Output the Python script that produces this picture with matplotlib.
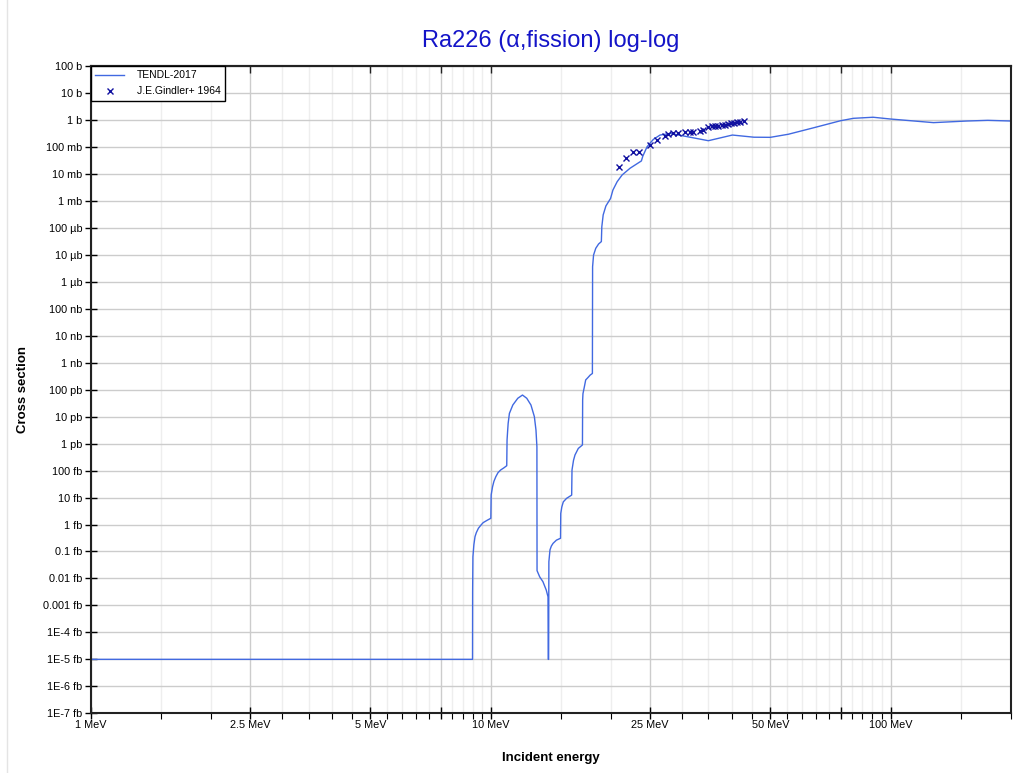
import numpy as np
import matplotlib
matplotlib.use("Agg")
import matplotlib.pyplot as plt
from matplotlib.ticker import FixedLocator, FuncFormatter, NullFormatter
from matplotlib.lines import Line2D

plt.rcParams['font.family'] = ['Liberation Sans', 'DejaVu Sans']

# TENDL-2017 evaluation (energy in MeV, log10 of cross section in b)
tendl_e = [1.0, 9.0, 9.005, 9.02, 9.07, 9.13, 9.2, 9.31, 9.45, 9.57, 9.8, 10.0,
           10.02, 10.1, 10.18, 10.29, 10.42, 10.58, 10.78, 10.96,
           10.98, 11.02, 11.05, 11.13, 11.35, 11.68, 12.0, 12.3, 12.6, 12.85, 12.97, 13.04,
           13.05, 13.25, 13.5, 13.76, 13.9, 13.92,
           13.95, 13.97, 14.06, 14.17, 14.31, 14.59, 14.94,
           14.96, 15.05, 15.18, 15.47, 15.93,
           15.96, 16.1, 16.24, 16.55, 16.95,
           16.97, 17.0, 17.14, 17.27, 17.5, 17.72, 17.95,
           17.97, 18.07, 18.3, 18.6, 18.9, 18.95, 19.1, 19.4, 19.93, 20.2, 20.7, 21.3,
           22.3, 23.8, 24.0, 24.6, 25.5, 26.5, 28.1, 35.0, 40.2, 45.5, 50.0, 55.5, 64.2,
           74.9, 80.7, 90.4, 99.8, 128.0, 155.0, 175.0, 200.0]
tendl_log = [-20.0, -20.0, -17.5, -16.2, -15.75, -15.45, -15.3, -15.14, -15.02, -14.93, -14.84, -14.77,
             -13.9, -13.6, -13.4, -13.23, -13.08, -12.98, -12.9, -12.82,
             -11.87, -11.5, -11.25, -10.88, -10.57, -10.32, -10.2, -10.32, -10.57, -11.0, -11.5, -12.12,
             -16.71, -16.94, -17.12, -17.43, -17.68, -20.0,
             -20.0, -16.38, -15.94, -15.8, -15.70, -15.58, -15.51,
             -14.59, -14.35, -14.16, -14.03, -13.91,
             -12.98, -12.62, -12.42, -12.18, -12.05,
             -10.38, -10.15, -9.89, -9.64, -9.55, -9.46, -9.4,
             -5.44, -5.01, -4.76, -4.6, -4.51, -3.96, -3.52, -3.19, -2.91, -2.60, -2.29, -2.04,
             -1.79, -1.52, -1.34, -0.99, -0.72, -0.56, -0.50, -0.77, -0.56, -0.64, -0.645, -0.53, -0.29,
             -0.03, 0.06, 0.10, 0.035, -0.10, -0.04, -0.015, -0.04]

# J.E.Gindler+ 1964 measurement
exp_e = [20.95, 21.8, 22.7, 23.5, 25.0, 26.0, 27.2, 27.8, 28.6, 29.4, 30.6, 31.5,
         32.1, 33.4, 34.0, 35.0, 35.7, 36.4, 37.1, 37.8, 38.6, 39.3, 39.9, 40.5,
         41.3, 42.0, 42.9]
exp_log = [-1.733, -1.40, -1.20, -1.18, -0.93, -0.74, -0.58, -0.52, -0.47, -0.473, -0.458, -0.447,
           -0.436, -0.399, -0.373, -0.262, -0.236, -0.225, -0.214, -0.188, -0.177, -0.150, -0.125, -0.113,
           -0.088, -0.065, -0.050]

x_major = [1, 2.5, 5, 7.5, 10, 25, 50, 75, 100]
x_labels = {1: "1 MeV", 2.5: "2.5 MeV", 5: "5 MeV", 10: "10 MeV",
            25: "25 MeV", 50: "50 MeV", 100: "100 MeV"}
x_minor = list(np.arange(1.5, 10, 0.5)) + list(np.arange(15, 100, 5)) + [150, 200]

y_decades = list(range(-22, 3))


def ylabel_fmt(v, pos):
    p = int(round(np.log10(v)))
    units = [(0, "b"), (-3, "mb"), (-6, "µb"), (-9, "nb"), (-12, "pb"), (-15, "fb")]
    for base, u in units:
        if p >= base:
            return "%d %s" % (10 ** (p - base), u)
    k = p + 15
    if k >= -3:
        return "%s fb" % ("0." + "0" * (-k - 1) + "1")
    return "1E%d fb" % k


def xlabel_fmt(v, pos):
    for k, s in x_labels.items():
        if abs(v - k) < 1e-6:
            return s
    return ""


fig = plt.figure(figsize=(10.24, 7.73), dpi=100)
ax = fig.add_axes([91 / 1024, 1 - 713.3 / 773, 920 / 1024, 647.3 / 773])

ax.plot(tendl_e, 10 ** np.array(tendl_log), color='#4169E1', lw=1.0, label='TENDL-2017')
ax.plot(exp_e, 10 ** np.array(exp_log), ls='none', marker='x', ms=4, mew=1.0,
        color='#1010A0', label='J.E.Gindler+ 1964')

ax.set_xscale('log')
ax.set_yscale('log')
ax.set_xlim(1, 200)
ax.set_ylim(1e-22, 1e2)

ax.xaxis.set_major_locator(FixedLocator(x_major))
ax.xaxis.set_minor_locator(FixedLocator(x_minor))
ax.xaxis.set_major_formatter(FuncFormatter(xlabel_fmt))
ax.xaxis.set_minor_formatter(NullFormatter())
ax.yaxis.set_major_locator(FixedLocator([10.0 ** p for p in y_decades]))
ax.yaxis.set_minor_locator(FixedLocator([]))
ax.yaxis.set_major_formatter(FuncFormatter(ylabel_fmt))

ax.tick_params(axis='both', which='major', direction='inout', length=8, width=1,
               labelsize=7.8, colors='black', pad=2)
ax.tick_params(axis='x', which='minor', direction='out', length=4, width=0.8)
ax.tick_params(axis='x', which='major', pad=1)

ax.grid(True, which='major', color='#cccccc', lw=1.0)
ax.grid(True, which='minor', axis='x', color='#eeeeee', lw=1.0)
ax.set_axisbelow(True)

for s in ax.spines.values():
    s.set_linewidth(1.5)
    s.set_color('#222222')

# top ticks pointing inward
top = ax.secondary_xaxis('top')
top.set_zorder(5)
top.xaxis.set_major_locator(FixedLocator(x_major))
top.xaxis.set_minor_locator(FixedLocator([]))
top.xaxis.set_major_formatter(NullFormatter())
top.tick_params(direction='in', length=5, width=1, color='#222222')
top.spines['top'].set_linewidth(1.5)
top.spines['top'].set_color('#222222')

ax.set_title("Ra226 (α,fission) log-log", fontsize=17, color='#1414C8', pad=14)
ax.set_xlabel("Incident energy", fontsize=9.5, fontweight='bold', labelpad=16)
ax.set_ylabel("Cross section", fontsize=9.5, fontweight='bold', labelpad=10)

leg = ax.legend(loc='upper left', bbox_to_anchor=(0, 1), borderaxespad=0,
                fontsize=7.5, fancybox=False, framealpha=1, edgecolor='black',
                handlelength=2.8, handletextpad=1.2, borderpad=0.4, labelspacing=0.6)
leg.get_frame().set_linewidth(1.0)
leg.set_zorder(10)

fig.add_artist(Line2D([7 / 1024, 7 / 1024], [0, 1], color='#e4e4e4', lw=1,
                      transform=fig.transFigure))

fig.savefig("out.png", dpi=100)
